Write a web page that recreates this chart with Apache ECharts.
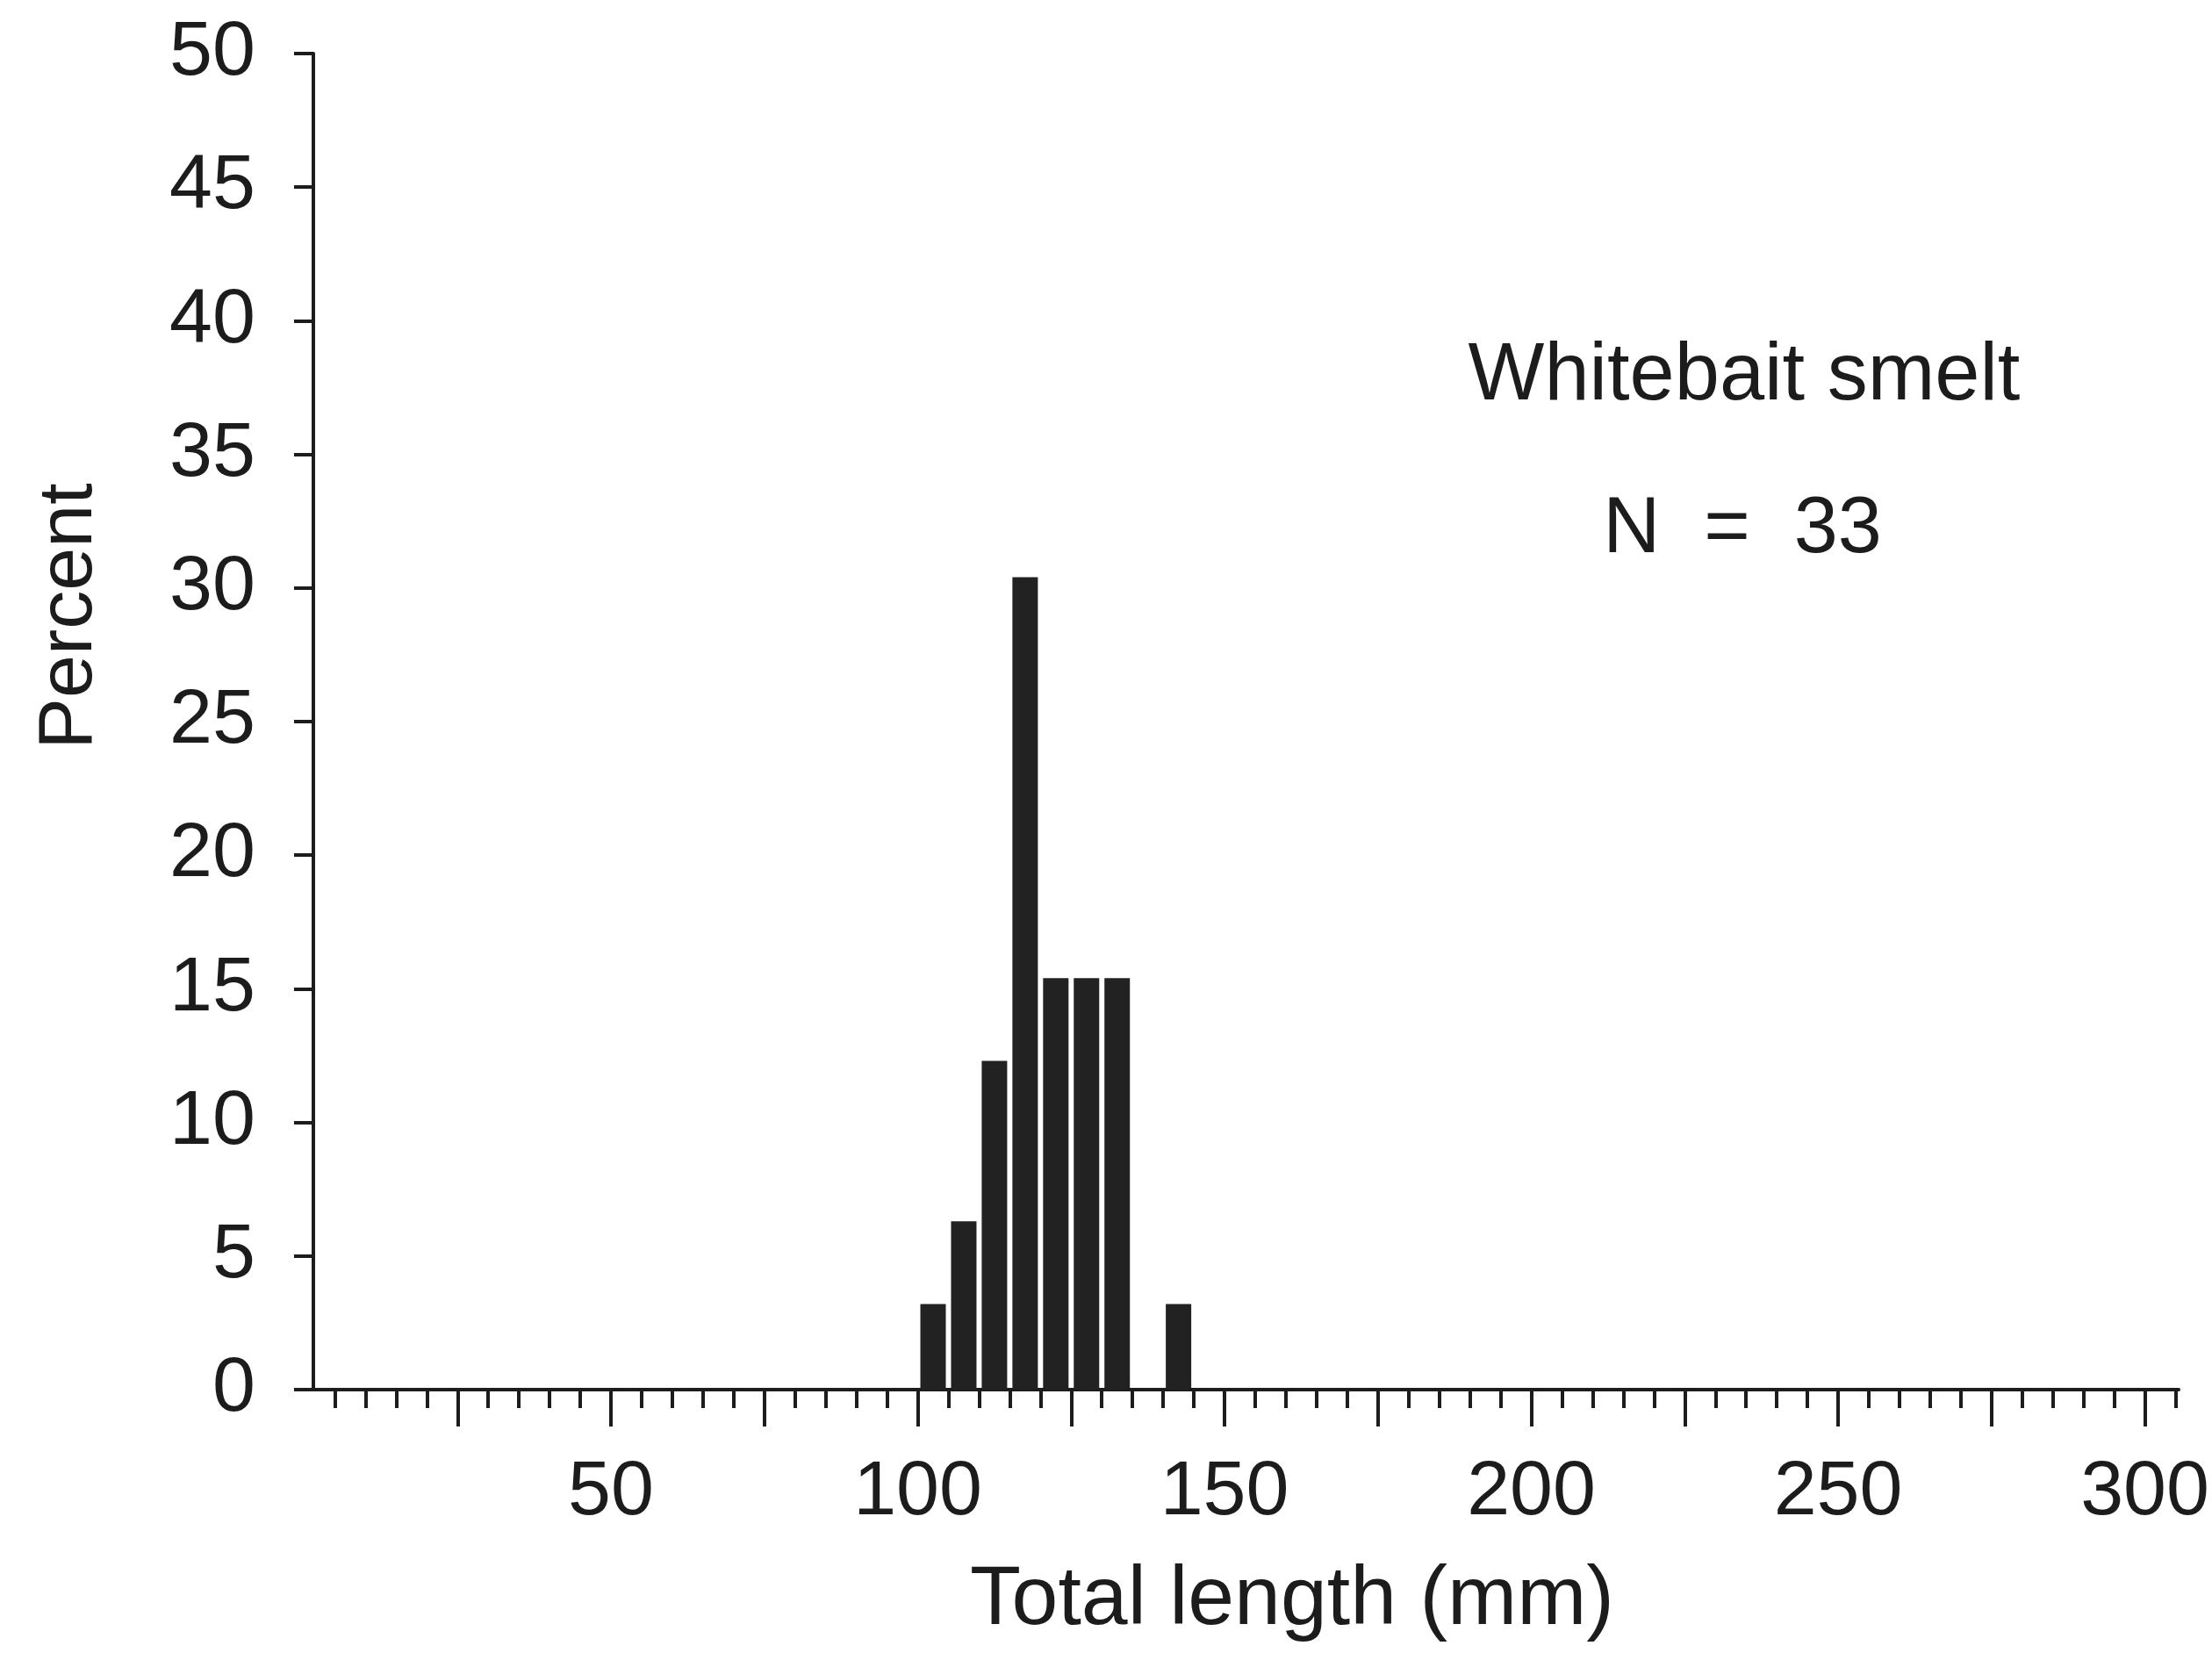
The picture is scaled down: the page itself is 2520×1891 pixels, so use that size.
<!DOCTYPE html>
<html>
<head>
<meta charset="utf-8">
<script src="https://cdn.jsdelivr.net/npm/echarts@6/dist/echarts.min.js"></script>
<style>html,body{margin:0;padding:0;background:#fff}#c{width:2520px;height:1891px}</style>
</head>
<body>
<div id="c"></div>
<script>
// Data
const binCenters = [102.5, 107.5, 112.5, 117.5, 122.5, 127.5, 132.5, 142.5];   // total length (mm), 5 mm bins
const percents   = [3.2, 6.3, 12.3, 30.4, 15.4, 15.4, 15.4, 3.2];
const xLabelValues = [50, 100, 150, 200, 250, 300];
const xMajorTicks = [25, 50, 75, 100, 125, 150, 175, 200, 225, 250, 275, 300];
const xMinorTicks = [5,10,15,20,30,35,40,45,55,60,65,70,80,85,90,95,105,110,115,120,130,135,140,145,155,160,165,170,180,185,190,195,205,210,215,220,230,235,240,245,255,260,265,270,280,285,290,295,305];
const speciesName = 'Whitebait smelt';
const sampleText = 'N  =  33';
const xTitle = 'Total length (mm)';
const yTitle = 'Percent';

const FONT = '"Liberation Sans", Arial, Helvetica, sans-serif';
const INK = '#1c1c1c';

const chart = echarts.init(document.getElementById('c'), null, {renderer: 'canvas'});
const xMin = 1.5, xMax = 305.5;
chart.setOption({
  animation: false,
  backgroundColor: '#ffffff',
  grid: {left: 357, right: 37, top: 61, bottom: 308, containLabel: false},
  xAxis: [{
    type: 'value', min: xMin, max: xMax, position: 'bottom',
    axisLine: {show: true, onZero: false, lineStyle: {color: INK, width: 4}},
    axisTick: {show: true, inside: false, length: 42, customValues: xMajorTicks, lineStyle: {color: INK, width: 4}},
    axisLabel: {show: true, customValues: xLabelValues, margin: 74, fontFamily: FONT, fontSize: 88, color: INK},
    splitLine: {show: false}
  }, {
    type: 'value', min: xMin, max: xMax, position: 'bottom', offset: 0,
    axisLine: {show: false},
    axisTick: {show: true, inside: false, length: 21, customValues: xMinorTicks, lineStyle: {color: INK, width: 4}},
    axisLabel: {show: false},
    splitLine: {show: false}
  }],
  yAxis: {
    type: 'value', min: 0, max: 50, interval: 5,
    axisLine: {show: true, onZero: false, lineStyle: {color: INK, width: 4}},
    axisTick: {show: true, inside: false, length: 22, lineStyle: {color: INK, width: 4}},
    axisLabel: {margin: 66, fontFamily: FONT, fontSize: 88, color: INK},
    splitLine: {show: false}
  },
  series: [{
    type: 'bar', xAxisIndex: 0, yAxisIndex: 0,
    barWidth: 29,
    itemStyle: {color: '#222222'},
    data: binCenters.map((x, i) => [x, percents[i]])
  }],
  graphic: [
    {type: 'text', x: 1987, y: 430, style: {text: speciesName, textAlign: 'center', textVerticalAlign: 'middle', fontFamily: FONT, fontSize: 92, fill: INK}},
    {type: 'text', x: 1985, y: 604, style: {text: sampleText, textAlign: 'center', textVerticalAlign: 'middle', fontFamily: FONT, fontSize: 90, fill: INK}},
    {type: 'text', x: 1472, y: 1824, style: {text: xTitle, textAlign: 'center', textVerticalAlign: 'middle', fontFamily: FONT, fontSize: 95, fill: INK}},
    {type: 'text', x: 80, y: 702, rotation: Math.PI / 2, style: {text: yTitle, textAlign: 'center', textVerticalAlign: 'middle', fontFamily: FONT, fontSize: 88, fill: INK}}
  ]
});
</script>
</body>
</html>
